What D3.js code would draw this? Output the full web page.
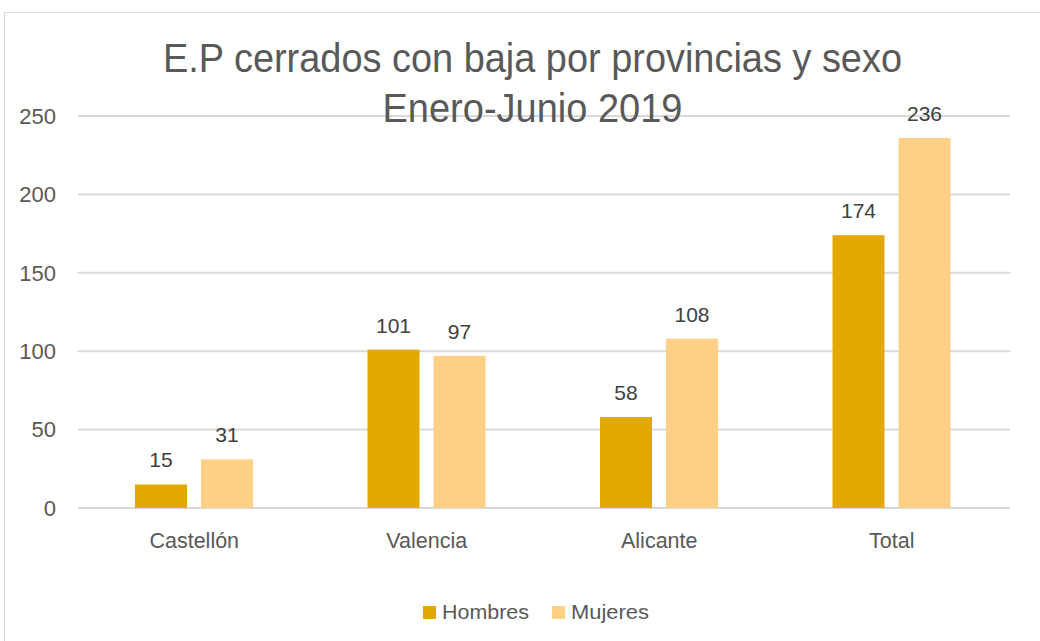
<!DOCTYPE html>
<html><head><meta charset="utf-8">
<script src="https://cdn.jsdelivr.net/npm/d3@7"></script>
<style>
body{margin:0;background:#fff;}
text{font-family:"Liberation Sans Narrow","Arial Narrow","Liberation Sans",Arial,sans-serif;}
</style></head>
<body><svg id="c" width="1040" height="641"></svg>
<script>
const categories = ["Castellón","Valencia","Alicante","Total"];
const hombres = [15,101,58,174];
const mujeres = [31,97,108,236];
const seriesNames = ["Hombres","Mujeres"];
const colors = ["#E2AA00","#FFD085"];
const ticks = [0,50,100,150,200,250];
const titleLines = ["E.P cerrados con baja por provincias y sexo","Enero-Junio 2019"];

const svg = d3.select("#c");
svg.append("rect").attr("x",4.5).attr("y",12.5).attr("width",1040).attr("height",640)
  .attr("fill","#fff").attr("stroke","#d9d9d9");

const x0 = d3.scaleBand().domain(categories).range([78,1008]).paddingInner(0).paddingOuter(0);
const y = d3.scaleLinear().domain([0,250]).range([508,116]);
const x1 = d3.scaleBand().domain(seriesNames).range([57,175]).paddingInner(0.2121).paddingOuter(0);

svg.append("g").selectAll("line").data(ticks).enter().append("line")
  .attr("x1",78).attr("x2",1010).attr("y1",d=>y(d)).attr("y2",d=>y(d))
  .attr("stroke","#d9d9d9").attr("stroke-width",2);

const yAxis = d3.axisLeft(y).tickValues(ticks).tickSize(0).tickPadding(0);
const ya = svg.append("g").attr("transform","translate(56,0)").call(yAxis);
ya.select(".domain").remove();
ya.selectAll("text").attr("font-size",22).attr("fill","#595959").attr("dy","0.33em")
  .style("font-family",null);

const xAxis = d3.axisBottom(x0).tickSize(0).tickPadding(0);
const xa = svg.append("g").attr("transform","translate(0,548)").call(xAxis);
xa.select(".domain").remove();
xa.selectAll("text").attr("font-size",21.5).attr("fill","#595959").attr("dy",0)
  .style("font-family",null);
svg.selectAll(".tick text").attr("font-family",null);
svg.selectAll("g[font-family]").attr("font-family",null);

const data = categories.map((c,i)=>({c, vals:[{s:"Hombres",v:hombres[i]},{s:"Mujeres",v:mujeres[i]}]}));
const cg = svg.selectAll("g.cat").data(data).enter().append("g").attr("class","cat")
  .attr("transform",d=>`translate(${x0(d.c)},0)`);
cg.selectAll("rect").data(d=>d.vals).enter().append("rect")
  .attr("x",d=>x1(d.s)).attr("width",x1.bandwidth())
  .attr("y",d=>y(d.v)).attr("height",d=>y(0)-y(d.v))
  .attr("fill",(d,i)=>colors[i]);
cg.selectAll("text").data(d=>d.vals).enter().append("text")
  .attr("x",d=>x1(d.s)+x1.bandwidth()/2).attr("y",d=>y(d.v)-17)
  .attr("text-anchor","middle").attr("font-size",21).attr("fill","#404040")
  .text(d=>d.v);

const tw = [739,300];
svg.selectAll("text.title").data(titleLines).enter().append("text").attr("class","title")
  .attr("x",(d,i)=>532.5-tw[i]/2).attr("y",(d,i)=>72+i*50)
  .attr("textLength",(d,i)=>tw[i]).attr("lengthAdjust","spacingAndGlyphs")
  .attr("font-size",41).attr("fill","#595959").text(d=>d);

const lg = svg.append("g").attr("transform","translate(0,619)");
const litems = [{n:"Hombres",x:423,w:87},{n:"Mujeres",x:552,w:78}];
litems.forEach((it,i)=>{
  lg.append("rect").attr("x",it.x).attr("y",-13).attr("width",13).attr("height",13).attr("fill",colors[i]);
  lg.append("text").attr("x",it.x+19).attr("y",0).attr("font-size",21).attr("fill","#595959")
    .attr("textLength",it.w).attr("lengthAdjust","spacingAndGlyphs").text(it.n);
});
</script></body></html>
